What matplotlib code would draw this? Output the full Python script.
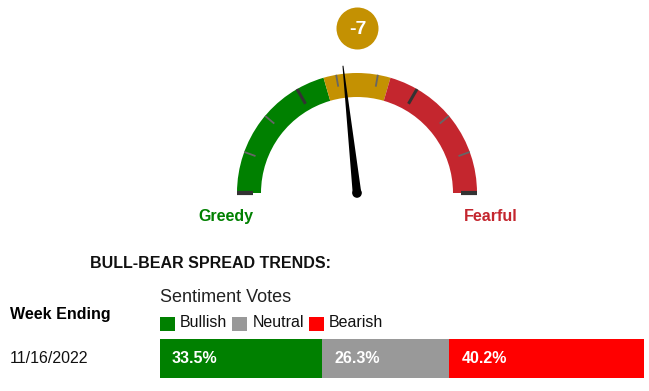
import numpy as np
import matplotlib.pyplot as plt
from matplotlib.patches import Wedge, Circle, Polygon, Rectangle

plt.rcParams['font.family'] = ['Liberation Sans', 'DejaVu Sans']

# 資料
gauge_value = -7
band_edges = [-100, -18, 18, 100]
band_colors = ['#008000', '#C49102', '#C4262E']
week_ending = '11/16/2022'
vote_labels = ['Bullish', 'Neutral', 'Bearish']
vote_values = [33.5, 26.3, 40.2]
vote_colors = ['#008000', '#999999', '#FF0000']

W, H = 649, 391
fig = plt.figure(figsize=(W / 100, H / 100), dpi=100)
ax = fig.add_axes([0, 0, 1, 1])
ax.set_xlim(0, W)
ax.set_ylim(H, 0)
ax.axis('off')

# 儀表盤
cx, cy = 357, 193
r_out, r_in = 120, 96


def ang(v):
    # 數值 -> 角度 (度, 逆時針, 0 = 右)
    return 90 - 0.9 * v


for lo, hi, col in zip(band_edges[:-1], band_edges[1:], band_colors):
    ax.add_patch(Wedge((cx, cy), r_out, -ang(lo), -ang(hi), width=r_out - r_in,
                       facecolor=col, edgecolor='none', zorder=2))

# 刻度
for a in range(0, 181, 20):
    t = np.radians(a)
    if a in (0, 180):
        r0, col, lw = 104, '#333333', 3
    elif a % 60 == 0:
        r0, col, lw = 103, '#333333', 2.2
    else:
        r0, col, lw = 108, '#666666', 1.3
    ax.plot([cx + r0 * np.cos(t), cx + r_out * np.cos(t)],
            [cy - r0 * np.sin(t), cy - r_out * np.sin(t)],
            color=col, lw=lw, solid_capstyle='butt', zorder=3)

# 指針
t = np.radians(ang(gauge_value))
u = np.array([np.cos(t), -np.sin(t)])
p = np.array([np.sin(t), np.cos(t)])
c = np.array([cx, cy])
needle = Polygon([c + 4.3 * p, c + 128 * u + 0.5 * p, c + 128 * u - 0.5 * p, c - 4.3 * p],
                 closed=True, facecolor='black', edgecolor='none', zorder=5)
ax.add_patch(needle)
ax.add_patch(Circle((cx, cy), 4.8, facecolor='black', edgecolor='none', zorder=5))

# 數值泡泡
ax.add_patch(Circle((357.5, 28.5), 21, facecolor=band_colors[1], edgecolor='none', zorder=4))
ax.text(357.5, 29.5, f'{gauge_value}', color='white', fontsize=14, fontweight='bold',
        ha='center', va='center', zorder=6)

ax.text(198, 221, 'Greedy', color=band_colors[0], fontsize=11.5, fontweight='bold',
        ha='left', va='baseline')
ax.text(464, 221, 'Fearful', color=band_colors[2], fontsize=11.5, fontweight='bold',
        ha='left', va='baseline')

# 下方表格
ax.text(90, 268.3, 'BULL-BEAR SPREAD TRENDS:', color='#111111', fontsize=11.5,
        fontweight='bold', ha='left', va='baseline')
ax.text(160, 301.7, 'Sentiment Votes', color='#222222', fontsize=13, ha='left', va='baseline')
ax.text(10, 319.3, 'Week Ending', color='black', fontsize=11.5, fontweight='bold',
        ha='left', va='baseline')

# 圖例
fig.canvas.draw()
renderer = fig.canvas.get_renderer()
x = 160
for lab, col in zip(vote_labels, vote_colors):
    ax.add_patch(Rectangle((x, 316.7), 15, 14.3, facecolor=col, edgecolor='none'))
    txt = ax.text(x + 20, 327.3, lab, color='#111111', fontsize=11.5, ha='left', va='baseline')
    bb = txt.get_window_extent(renderer)
    x = x + 20 + bb.width + 5

ax.text(10, 363.3, week_ending, color='#111111', fontsize=11.5, ha='left', va='baseline')

# 堆疊長條
bar_left, bar_width = 160, 484
left = bar_left
for v, col in zip(vote_values, vote_colors):
    w = v / 100 * bar_width
    ax.barh(358.8, w, left=left, height=39, color=col, edgecolor='none')
    ax.text(left + 12, 363.3, f'{v:.1f}%', color='white', fontsize=11.5, fontweight='bold',
            ha='left', va='baseline')
    left += w

fig.savefig('out.png', dpi=100)
